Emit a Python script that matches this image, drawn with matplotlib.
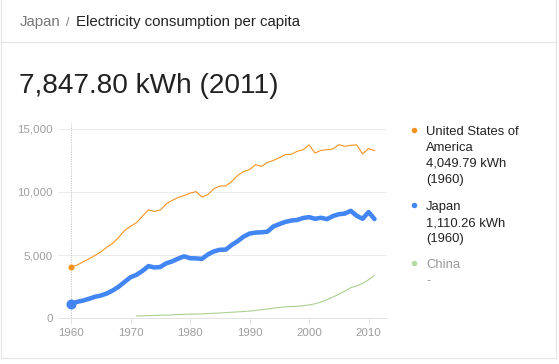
import numpy as np
import matplotlib
matplotlib.use("Agg")
import matplotlib.pyplot as plt
from matplotlib.lines import Line2D

# electricity consumption per capita, kWh
years_all = list(range(1960, 2012))
usa = [4050, 4210, 4460, 4700, 4970, 5250, 5620, 5930, 6400, 6950,
       7280, 7560, 8080, 8580, 8450, 8560, 9050, 9330, 9560, 9700,
       9900, 10020, 9590, 9780, 10250, 10460, 10470, 10820, 11300, 11600,
       11760, 12150, 12010, 12330, 12480, 12700, 12940, 12970, 13200, 13330,
       13710, 13070, 13280, 13330, 13390, 13730, 13600, 13680, 13710, 13000,
       13420, 13260]
japan = [1110, 1300, 1400, 1540, 1700, 1800, 1960, 2200, 2500, 2880,
         3250, 3440, 3750, 4130, 4020, 4060, 4350, 4500, 4720, 4900,
         4750, 4740, 4700, 5050, 5290, 5420, 5430, 5800, 6100, 6460,
         6700, 6780, 6800, 6850, 7260, 7450, 7620, 7730, 7780, 7930,
         8000, 7870, 7950, 7840, 8080, 8230, 8280, 8500, 8110, 7870,
         8400, 7847.80]
years_china = list(range(1971, 2012))
china = [180, 200, 215, 225, 245, 250, 270, 300, 320, 330,
         335, 350, 370, 400, 420, 450, 480, 510, 540, 570,
         620, 680, 740, 800, 860, 900, 930, 950, 990, 1060,
         1150, 1280, 1470, 1680, 1900, 2150, 2420, 2560, 2760, 3050,
         3380]

yticks = [0, 5000, 10000, 15000]
xticks = [1960, 1970, 1980, 1990, 2000, 2010]

legend_rows = [
    ("#f5921f", ["United States of", "America", "4,049.79 kWh", "(1960)"], "#222222"),
    ("#4285f4", ["Japan", "1,110.26 kWh", "(1960)"], "#222222"),
    ("#b3dba0", ["China", "-"], "#999999"),
]

W, H = 559, 364
plt.rcParams["font.family"] = ["Liberation Sans", "DejaVu Sans"]

fig = plt.figure(figsize=(W / 100, H / 100), dpi=100)


def fx(x):
    return x / W


def fy(y):
    return 1 - y / H


def px(p):
    return p * 0.72


# card frame
border = "#e5e5e5"
for xs, ys in [([1.5, 1.5], [0, 358]), ([555.5, 555.5], [0, 358]),
               ([1.5, 555.5], [358, 358]), ([1.5, 555.5], [42, 42])]:
    fig.add_artist(Line2D([fx(v) for v in xs], [fy(v) for v in ys],
                          color=border, lw=px(1.2), transform=fig.transFigure))

# header
fig.text(fx(20), fy(26), "Japan", color="#777777", fontsize=px(15), va="baseline")
fig.text(fx(66), fy(26), "/", color="#777777", fontsize=px(12), va="baseline")
fig.text(fx(76), fy(26), "Electricity consumption per capita", color="#222222",
         fontsize=px(15), va="baseline")
fig.text(fx(19), fy(93), "7,847.80 kWh (2011)", color="#222222", fontsize=px(28),
         va="baseline")

# chart
ax = fig.add_axes([fx(58), 45.7 / H, (387 - 58) / W, (318.3 - 123.3) / H])
ax.set_xlim(1957.8, 2013.1)
ax.set_ylim(0, 15420)

ax.plot(years_all, usa, color="#f5921f", lw=px(1.1), zorder=3)
ax.plot(years_all, japan, color="#4285f4", lw=px(4.5), zorder=4,
        solid_capstyle="round", solid_joinstyle="round")
ax.plot(years_china, china, color="#a9d18e", lw=px(1.1), zorder=3)
ax.plot(years_all[0], usa[0], "o", color="#f5921f", ms=px(6), mew=0, zorder=5)
ax.plot(years_all[0], japan[0], "o", color="#4285f4", ms=px(10), mew=0, zorder=5,
        clip_on=False)

ax.axvline(1960, color="#c8c8c8", lw=px(1), ls=(0, (1.2, 1.2)), zorder=2)

ax.set_yticks(yticks)
ax.set_yticklabels([f"{v:,}" for v in yticks])
ax.set_xticks(xticks)
ax.grid(axis="y", color="#ebebeb", lw=px(1))
ax.set_axisbelow(True)
for s in ["top", "right", "left"]:
    ax.spines[s].set_visible(False)
ax.spines["bottom"].set_color("#e3e3e3")
ax.spines["bottom"].set_linewidth(px(1))
ax.tick_params(axis="y", length=0, pad=3.5, labelsize=px(11.5), labelcolor="#9e9e9e")
ax.tick_params(axis="x", length=px(6), width=px(1), color="#e3e3e3", pad=2.5,
               labelsize=px(11.5), labelcolor="#9e9e9e")

# legend
starts = [130, 205, 262.7]
for (col, lines, tcol), y0 in zip(legend_rows, starts):
    fig.add_artist(Line2D([fx(414.3)], [fy(y0)], marker="o", color=col, ms=px(5.5),
                          mew=0, transform=fig.transFigure))
    for i, t in enumerate(lines):
        fig.text(fx(426), fy(y0 + 5 + 16 * i), t, color=tcol, fontsize=px(13),
                 va="baseline")

fig.savefig("out.png", dpi=100, facecolor="white")
